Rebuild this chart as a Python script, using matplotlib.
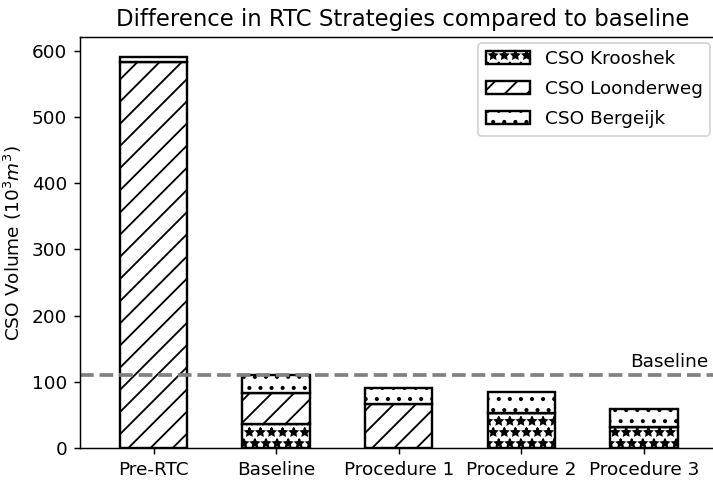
import numpy as np
import matplotlib
matplotlib.use("Agg")
import matplotlib.pyplot as plt

# values in 10^3 m^3
strategies = ['Pre-RTC', 'Baseline', 'Procedure 1', 'Procedure 2', 'Procedure 3']
krooshek = [0, 36, 0, 52.5, 31]
loonderweg = [583, 47, 66.5, 0, 0]
bergeijk = [8.5, 27, 24, 32.5, 28]

dpi = 133
fig = plt.figure(figsize=(713 / dpi, 482 / dpi), dpi=dpi)
# axes runs past the right edge, like the cropped original
ax = fig.add_axes([80 / 713, 1 - 448 / 482, 646 / 713, 411 / 482])

x = np.arange(len(strategies))
w = 0.55
k = np.array(krooshek)
l = np.array(loonderweg)
b = np.array(bergeijk)

style = dict(color='white', edgecolor='black', linewidth=1.3)
ax.bar(x, k, w, hatch='**', label='CSO Krooshek', **style)
ax.bar(x, l, w, bottom=k, hatch='//', label='CSO Loonderweg', **style)
ax.bar(x, b, w, bottom=k + l, hatch='..', label='CSO Bergeijk', **style)

base = k[1] + l[1] + b[1]
ax.axhline(base, color='grey', linestyle='--', linewidth=2)
ax.text(3.89, base + 6, 'Baseline', ha='left', va='bottom', fontsize=10)

ax.set_xlim(-0.6, 4.67)
ax.set_ylim(0, 621)
ax.set_yticks(range(0, 601, 100))
ax.set_xticks(x)
ax.set_xticklabels(strategies)
ax.set_ylabel(r'CSO Volume ($10^3 m^3$)')
ax.set_title('Difference in RTC Strategies compared to baseline', fontsize=12.3)

ax.legend(loc='upper right', bbox_to_anchor=(710 / 713, 1 - 43 / 482),
          bbox_transform=fig.transFigure, borderaxespad=0,
          handlelength=2.4, labelspacing=0.65)

fig.savefig('out.png', dpi=dpi)
